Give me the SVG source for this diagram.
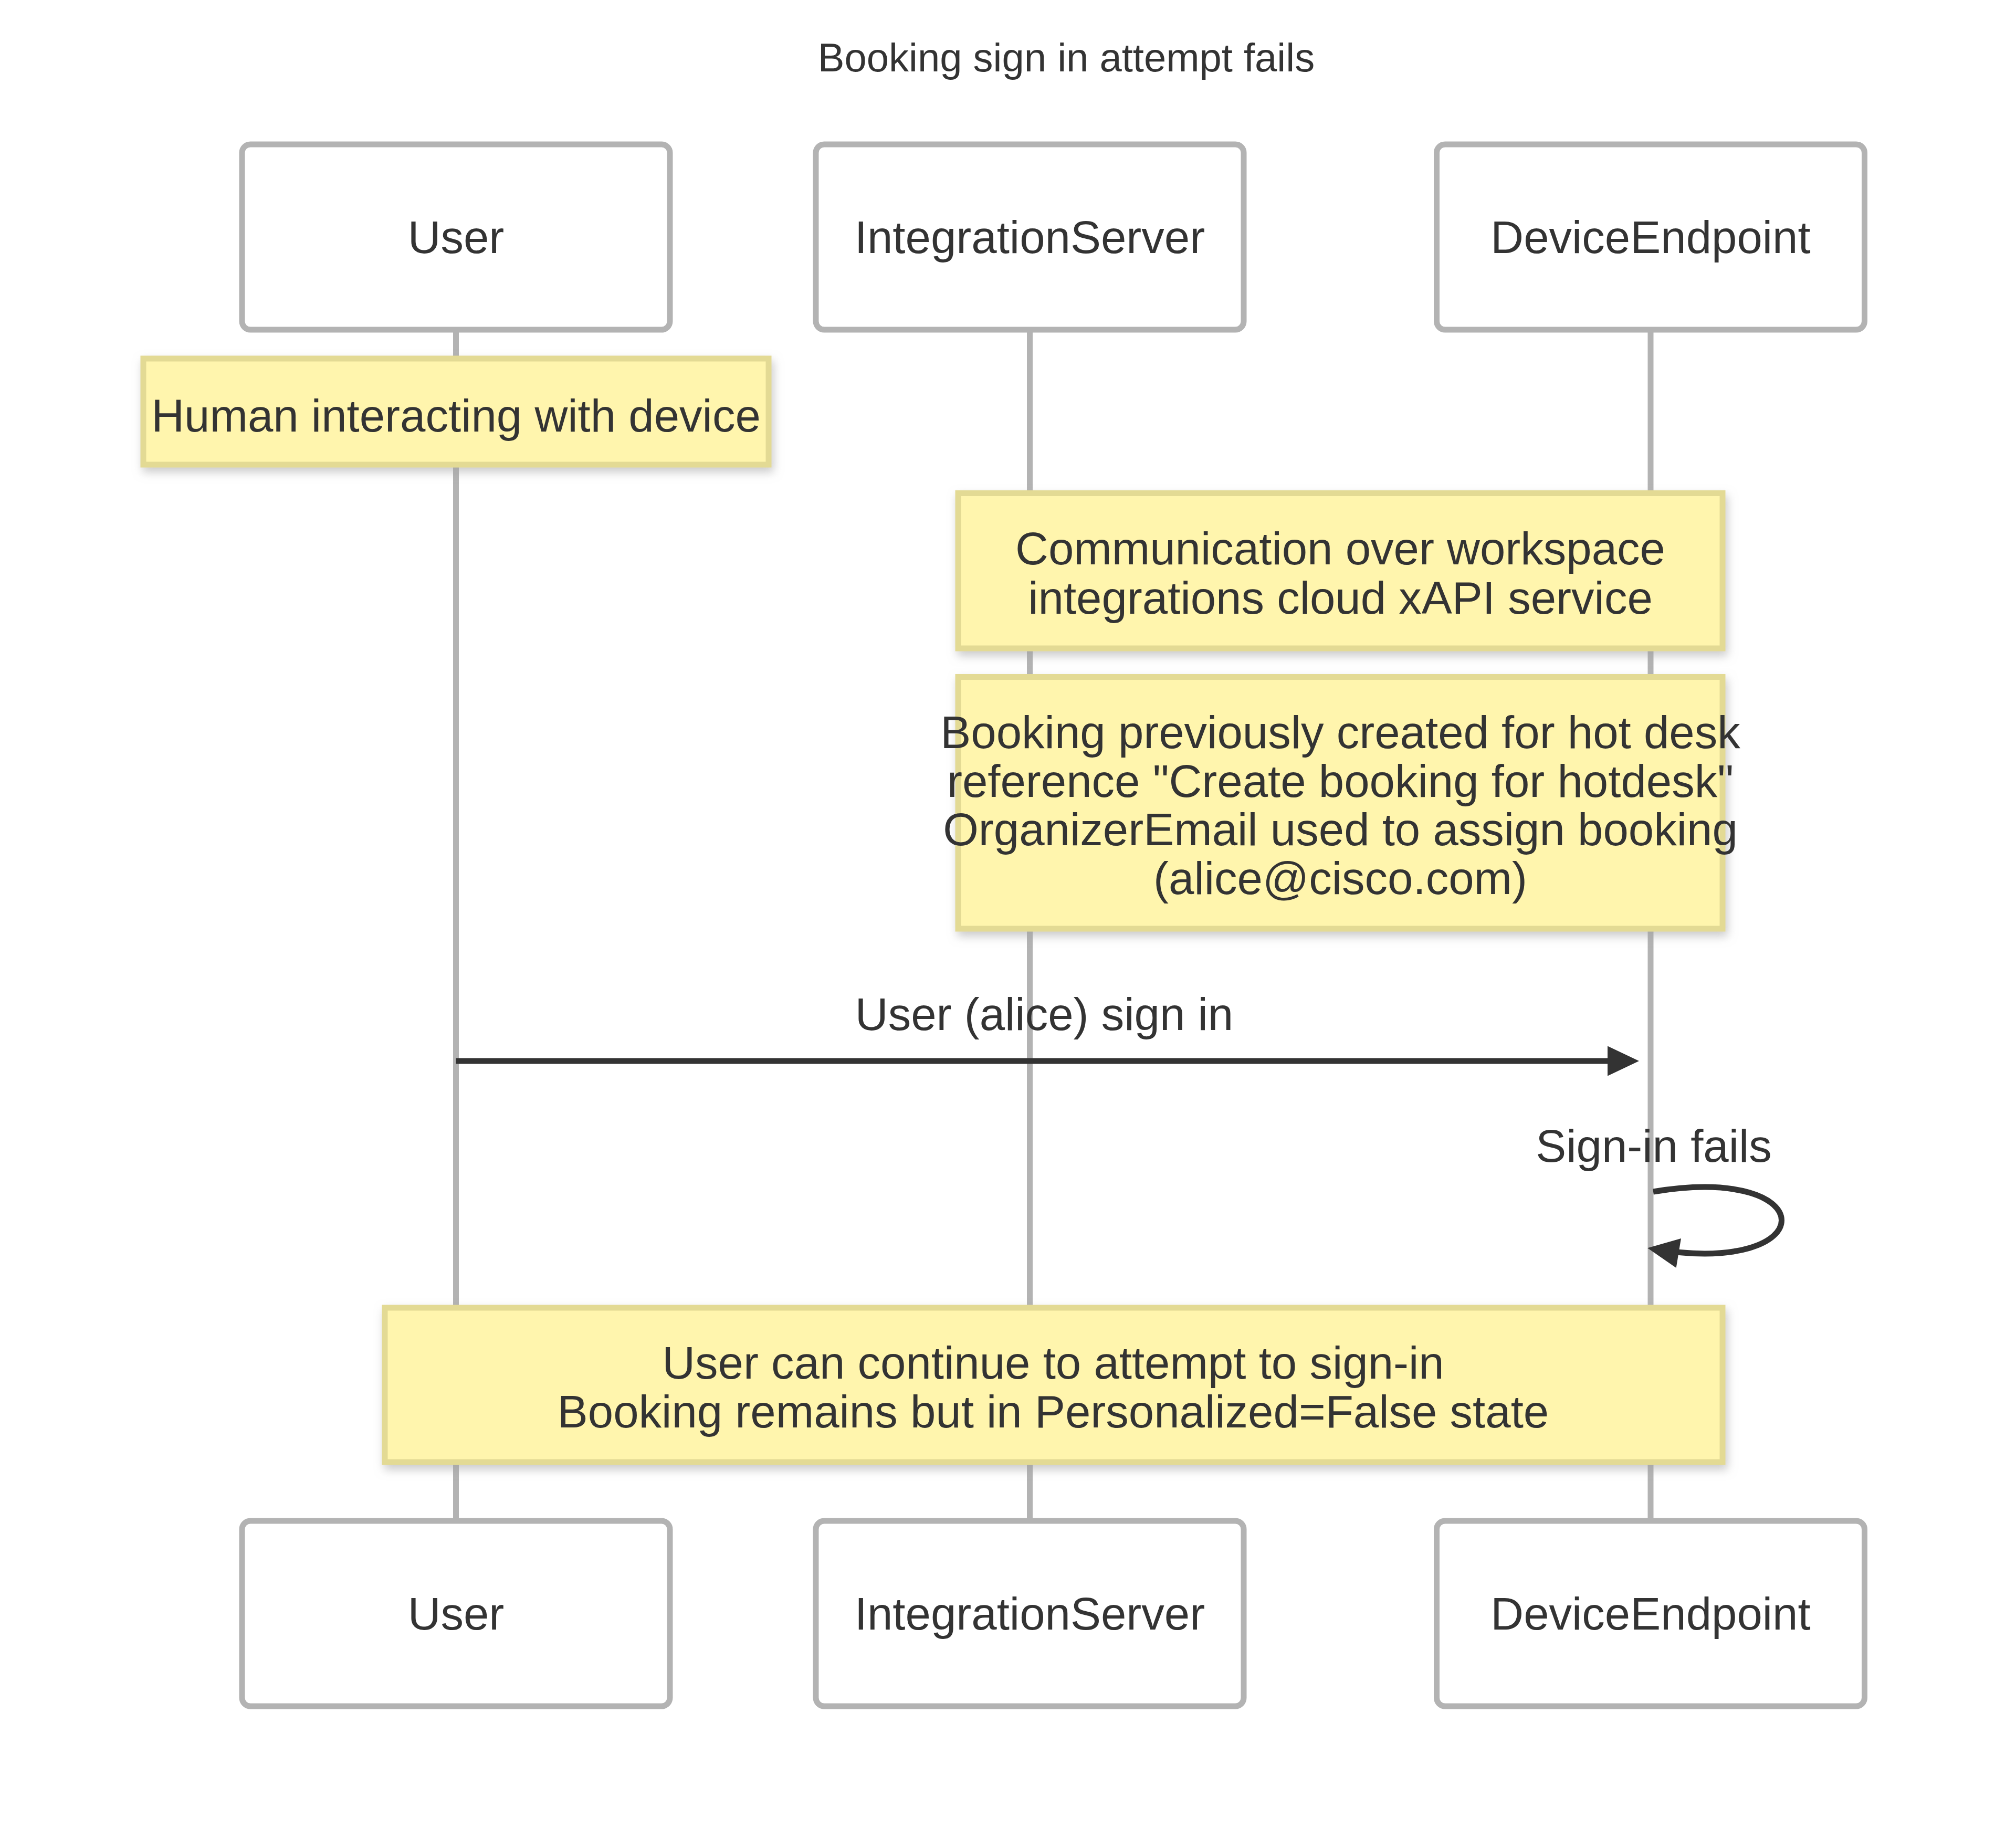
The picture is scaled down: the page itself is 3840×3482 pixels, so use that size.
<svg xmlns="http://www.w3.org/2000/svg" width="3840" height="3482" viewBox="0 0 3840 3482">
<style>
text{font-family:"Liberation Sans",Arial,Helvetica,sans-serif;fill:#333;}
.title{font-size:76px;text-anchor:middle;}
.actor rect{fill:#fff;stroke:#b3b3b3;stroke-width:11;}
.actor text{font-size:87px;text-anchor:middle;dominant-baseline:central;}
.lifeline{stroke:#b3b3b3;stroke-width:11;}
.note rect{fill:#fff5ad;stroke:#e3da94;stroke-width:11;filter:url(#shadow);}
.note text{font-size:87px;text-anchor:middle;}
.msg{stroke:#333;stroke-width:11;fill:none;}
.msgtext{font-size:87px;text-anchor:middle;}
</style>
<defs>
<filter id="shadow" x="-10%" y="-20%" width="120%" height="150%">
<feDropShadow dx="4" dy="9" stdDeviation="9" flood-color="#a0a0a0" flood-opacity="0.55"/>
</filter>
<marker id="arrowhead" markerUnits="userSpaceOnUse" markerWidth="70" markerHeight="70" refX="49" refY="28.5" orient="auto" overflow="visible">
<path d="M0,0 L60,28.5 L0,57 z" fill="#333"/>
</marker>
</defs>
<rect x="0" y="0" width="3840" height="3482" fill="#fff"/>
<text class="title" x="2031" y="136">Booking sign in attempt fails</text>

<g id="lifelines">
<line class="lifeline" x1="868.5" y1="628" x2="868.5" y2="2897"/>
<line class="lifeline" x1="1961.5" y1="628" x2="1961.5" y2="2897"/>
<line class="lifeline" x1="3144" y1="628" x2="3144" y2="2897"/>
</g>

<g id="actor-user-top" class="actor"><rect x="461" y="275" width="815" height="353" rx="16"/><text x="868.5" y="451.5">User</text></g>
<g id="actor-integrationserver-top" class="actor"><rect x="1554" y="275" width="815" height="353" rx="16"/><text x="1961.5" y="451.5">IntegrationServer</text></g>
<g id="actor-deviceendpoint-top" class="actor"><rect x="2736.5" y="275" width="815" height="353" rx="16"/><text x="3144" y="451.5">DeviceEndpoint</text></g>

<g id="note-human" class="note"><rect x="273" y="683" width="1191" height="202"/><text x="868.5" y="821.7">Human interacting with device</text></g>
<g id="note-communication" class="note"><rect x="1825" y="939.5" width="1456" height="295.5"/><text x="2553" y="1075">Communication over workspace</text><text x="2553" y="1168.5">integrations cloud xAPI service</text></g>
<g id="note-booking" class="note"><rect x="1825" y="1289.5" width="1456" height="479.5"/><text x="2553" y="1425">Booking previously created for hot desk</text><text x="2553" y="1517.5">reference "Create booking for hotdesk"</text><text x="2553" y="1610">OrganizerEmail used to assign booking</text><text x="2553" y="1702.5">(alice@cisco.com)</text></g>

<g id="connectors">
<line class="msg" x1="868.5" y1="2021" x2="3111" y2="2021" marker-end="url(#arrowhead)"/>
<text class="msgtext" x="1989" y="1962">User (alice) sign in</text>
<path class="msg" d="M3149,2270 C3475,2216 3475,2433 3149,2379" marker-end="url(#arrowhead)"/>
<text class="msgtext" x="3150" y="2213">Sign-in fails</text>
</g>

<g id="note-continue" class="note"><rect x="733" y="2491" width="2548" height="294"/><text x="2006" y="2626">User can continue to attempt to sign-in</text><text x="2006" y="2719">Booking remains but in Personalized=False state</text></g>

<g id="actor-user-bottom" class="actor"><rect x="461" y="2897" width="815" height="353" rx="16"/><text x="868.5" y="3073.5">User</text></g>
<g id="actor-integrationserver-bottom" class="actor"><rect x="1554" y="2897" width="815" height="353" rx="16"/><text x="1961.5" y="3073.5">IntegrationServer</text></g>
<g id="actor-deviceendpoint-bottom" class="actor"><rect x="2736.5" y="2897" width="815" height="353" rx="16"/><text x="3144" y="3073.5">DeviceEndpoint</text></g>
</svg>
